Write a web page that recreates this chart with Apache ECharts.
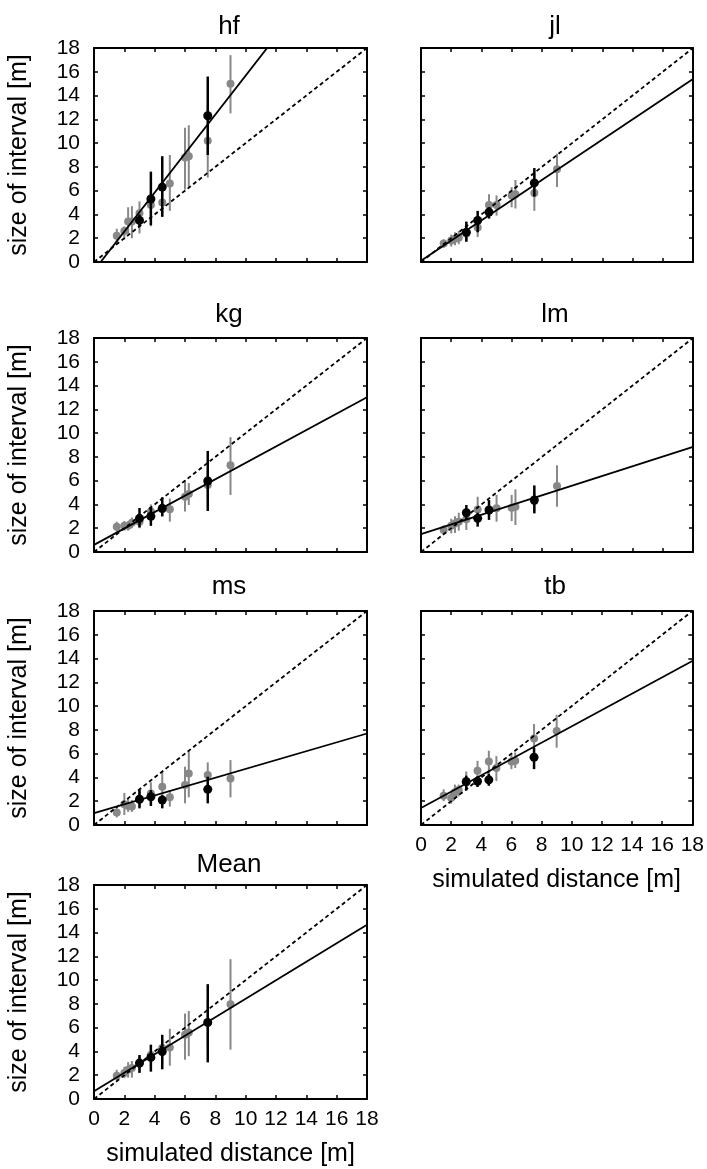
<!DOCTYPE html>
<html>
<head>
<meta charset="utf-8">
<script src="https://cdn.jsdelivr.net/npm/echarts@6/dist/echarts.min.js"></script>
<style>
  html, body { margin: 0; padding: 0; background: #fff; }
  #chart { width: 707px; height: 1169px; }
</style>
</head>
<body>
<div id="chart"></div>
<script>
// panels
const PANELS = ['hf', 'jl', 'kg', 'lm', 'ms', 'tb', 'Mean'];
const IDENTITY = [0, 18];

// simulated distances
const GRAY_X = [1.5, 2, 2.25, 2.5, 3, 3.75, 4.5, 5, 6, 6.25, 7.5, 9];
const BLACK_X = [3, 3.75, 4.5, 7.5];

// hf
const hfGrayY  = [2.2, 2.6, 3.4, 3.4, 4.1, 4.8, 5.0, 6.6, 8.8, 8.9, 10.2, 15.0];
const hfGrayLo = [1.6, 1.9, 2.3, 2.0, 2.4, 3.0, 3.8, 4.3, 6.1, 6.2, 7.1, 12.5];
const hfGrayHi = [2.8, 3.0, 4.6, 4.7, 5.1, 6.0, 6.2, 9.0, 11.3, 11.5, 13.2, 17.4];
const hfBlackY  = [3.5, 5.3, 6.3, 12.3];
const hfBlackLo = [3.0, 3.1, 3.8, 9.0];
const hfBlackHi = [4.0, 7.6, 8.9, 15.6];
const hfFit = [-0.72, 1.64]; // intercept, slope

// jl
const jlGrayY  = [1.55, 1.8, 1.95, 2.05, 2.4, 2.9, 4.8, 4.8, 5.6, 5.7, 5.8, 7.8];
const jlGrayLo = [1.2, 1.3, 1.4, 1.5, 1.8, 2.1, 3.8, 3.9, 4.6, 4.5, 4.3, 6.3];
const jlGrayHi = [1.9, 2.3, 2.5, 2.6, 3.0, 3.8, 5.7, 5.6, 6.3, 6.9, 7.6, 9.1];
const jlBlackY  = [2.5, 3.5, 4.2, 6.65];
const jlBlackLo = [1.7, 2.5, 3.65, 5.5];
const jlBlackHi = [3.4, 4.3, 4.6, 7.9];
const jlFit = [0.1, 0.85];

// kg
const kgGrayY  = [2.13, 2.2, 2.2, 2.45, 2.55, 3.4, 3.6, 3.6, 4.65, 4.87, 5.63, 7.3];
const kgGrayLo = [1.7, 1.8, 1.8, 2.0, 2.0, 2.7, 3.0, 2.55, 3.4, 3.95, 4.5, 4.8];
const kgGrayHi = [2.55, 2.6, 2.6, 2.9, 3.2, 4.0, 4.3, 4.5, 6.05, 5.8, 6.8, 9.66];
const kgBlackY  = [2.83, 3.0, 3.67, 5.97];
const kgBlackLo = [2.07, 2.2, 3.0, 3.45];
const kgBlackHi = [3.7, 3.8, 4.6, 8.5];
const kgFit = [0.6, 0.69];

// lm
const lmGrayY  = [1.85, 2.2, 2.4, 2.55, 2.75, 3.58, 3.5, 3.67, 3.72, 3.8, 4.3, 5.55];
const lmGrayLo = [1.45, 1.57, 1.6, 1.8, 1.85, 2.4, 2.8, 2.55, 2.6, 2.27, 3.5, 3.8];
const lmGrayHi = [2.25, 2.8, 3.0, 3.3, 3.67, 4.65, 4.2, 4.8, 4.8, 5.27, 5.0, 7.3];
const lmBlackY  = [3.3, 2.83, 3.53, 4.37];
const lmBlackLo = [2.7, 2.13, 2.7, 3.25];
const lmBlackHi = [3.95, 3.3, 4.37, 5.6];
const lmFit = [1.5, 0.408];

// ms
const msGrayY  = [1.06, 1.74, 1.6, 1.55, 2.2, 2.66, 3.22, 2.33, 3.36, 4.34, 4.2, 3.92];
const msGrayLo = [0.64, 0.84, 1.1, 1.1, 1.6, 1.8, 2.1, 1.55, 1.82, 2.33, 3.08, 2.33];
const msGrayHi = [1.4, 2.7, 2.2, 2.1, 2.9, 3.6, 4.48, 2.9, 4.9, 6.3, 5.27, 5.46];
const msBlackY  = [2.16, 2.38, 2.1, 3.0];
const msBlackLo = [1.4, 1.6, 1.4, 1.82];
const msBlackHi = [2.94, 2.94, 2.5, 4.06];
const msFit = [1.0, 0.372];

// tb
const tbGrayY  = [2.46, 2.27, 2.75, 2.94, 3.7, 4.57, 5.35, 4.8, 5.35, 5.4, 7.28, 7.9];
const tbGrayLo = [2.0, 1.8, 2.2, 2.4, 3.0, 3.6, 4.15, 3.7, 4.7, 4.8, 5.97, 6.5];
const tbGrayHi = [3.0, 2.75, 3.4, 3.4, 4.5, 5.4, 6.25, 5.8, 6.0, 6.1, 8.5, 9.27];
const tbBlackY  = [3.64, 3.67, 3.8, 5.7];
const tbBlackLo = [2.9, 3.2, 3.3, 4.7];
const tbBlackHi = [4.15, 4.1, 4.3, 6.5];
const tbFit = [1.43, 0.687];

// Mean
const meanGrayY  = [1.96, 2.18, 2.46, 2.6, 3.0, 3.7, 4.3, 4.34, 5.4, 5.6, 6.4, 7.98];
const meanGrayLo = [1.6, 1.75, 1.8, 1.8, 2.2, 2.7, 3.0, 2.8, 3.3, 3.6, 4.5, 4.15];
const meanGrayHi = [2.46, 2.7, 3.1, 3.2, 3.6, 4.5, 5.0, 5.9, 7.2, 7.4, 8.3, 11.76];
const meanBlackY  = [3.02, 3.5, 4.0, 6.44];
const meanBlackLo = [2.2, 2.3, 2.5, 3.08];
const meanBlackHi = [3.7, 4.57, 5.4, 9.66];
const meanFit = [0.65, 0.778];

const PANEL_DATA = [
  [hfGrayY, hfGrayLo, hfGrayHi, hfBlackY, hfBlackLo, hfBlackHi, hfFit],
  [jlGrayY, jlGrayLo, jlGrayHi, jlBlackY, jlBlackLo, jlBlackHi, jlFit],
  [kgGrayY, kgGrayLo, kgGrayHi, kgBlackY, kgBlackLo, kgBlackHi, kgFit],
  [lmGrayY, lmGrayLo, lmGrayHi, lmBlackY, lmBlackLo, lmBlackHi, lmFit],
  [msGrayY, msGrayLo, msGrayHi, msBlackY, msBlackLo, msBlackHi, msFit],
  [tbGrayY, tbGrayLo, tbGrayHi, tbBlackY, tbBlackLo, tbBlackHi, tbFit],
  [meanGrayY, meanGrayLo, meanGrayHi, meanBlackY, meanBlackLo, meanBlackHi, meanFit]
];

// layout
const FONT = "'Liberation Sans', Arial, Helvetica, sans-serif";
const LEFTS = [94, 421];
const WIDTHS = [273, 272];
const TOPS = [48, 338, 611, 885];
const HEIGHT = 214;
const TITLE_X = [224, 550];
const TITLE_Y = [25, 25, 313, 313, 585, 585, 863];
const GRAY = '#888888';

const chart = echarts.init(document.getElementById('chart'));

function errBar(color, width) {
  return function (params, api) {
    const p1 = api.coord([api.value(0), api.value(2)]);
    const p2 = api.coord([api.value(0), api.value(3)]);
    return {
      type: 'line',
      shape: { x1: p1[0], y1: p1[1], x2: p2[0], y2: p2[1] },
      style: { stroke: color, lineWidth: width }
    };
  };
}

const axisLine = { show: true, onZero: false, lineStyle: { color: '#000', width: 2 } };
const axisTick = { show: true, inside: true, length: 4, lineStyle: { color: '#000', width: 1.5 } };

let grid = [], xAxis = [], yAxis = [], series = [], title = [];

PANELS.forEach(function (name, i) {
  const col = i % 2, row = Math.floor(i / 2);
  const showX = (i === 5 || i === 6);
  const showY = (col === 0);
  const d = PANEL_DATA[i];

  grid.push({ left: LEFTS[col], top: TOPS[row], width: WIDTHS[col], height: HEIGHT });

  title.push({
    text: name, left: TITLE_X[col], top: TITLE_Y[i] - 16, textAlign: 'center',
    textStyle: { fontFamily: FONT, fontSize: 26, fontWeight: 'normal', color: '#000' }
  });

  const base = { gridIndex: i, type: 'value', min: 0, max: 18, interval: 2, splitLine: { show: false }, axisLine: axisLine, axisTick: axisTick };
  xAxis.push(Object.assign({}, base, {
    position: 'bottom',
    axisLabel: { show: showX, color: '#000', fontSize: 21, fontFamily: FONT, margin: 10 },
    name: showX ? 'simulated distance [m]' : '', nameLocation: 'middle', nameGap: 43,
    nameTextStyle: { color: '#000', fontSize: 25, fontFamily: FONT }
  }));
  xAxis.push(Object.assign({}, base, { position: 'top', axisLabel: { show: false } }));
  yAxis.push(Object.assign({}, base, {
    position: 'left',
    axisLabel: { show: showY, color: '#000', fontSize: 21, fontFamily: FONT, margin: 14 },
    name: showY ? 'size of interval [m]' : '', nameLocation: 'middle', nameGap: 62,
    nameTextStyle: { color: '#000', fontSize: 25, fontFamily: FONT }
  }));
  yAxis.push(Object.assign({}, base, { position: 'right', axisLabel: { show: false } }));

  const ax = { xAxisIndex: 2 * i, yAxisIndex: 2 * i };
  const grayData = GRAY_X.map((x, k) => [x, d[0][k], d[1][k], d[2][k]]);
  const blackData = BLACK_X.map((x, k) => [x, d[3][k], d[4][k], d[5][k]]);
  const fit = d[6];

  series.push(Object.assign({
    type: 'custom', renderItem: errBar(GRAY, 2), data: grayData,
    encode: { x: 0, y: [2, 3] }, silent: true, z: 2
  }, ax));
  series.push(Object.assign({
    type: 'scatter', data: grayData.map(r => [r[0], r[1]]), symbolSize: 8,
    itemStyle: { color: GRAY, opacity: 1 }, z: 3
  }, ax));
  series.push(Object.assign({
    type: 'line', data: IDENTITY.map(v => [v, v]), showSymbol: false, symbol: 'none', clip: true,
    lineStyle: { color: '#000', width: 1.8, type: [4, 3] }, z: 4
  }, ax));
  series.push(Object.assign({
    type: 'line', data: IDENTITY.map(v => [v, fit[0] + fit[1] * v]), showSymbol: false, symbol: 'none', clip: true,
    lineStyle: { color: '#000', width: 1.8 }, z: 4
  }, ax));
  series.push(Object.assign({
    type: 'custom', renderItem: errBar('#000', 2.5), data: blackData,
    encode: { x: 0, y: [2, 3] }, silent: true, z: 5
  }, ax));
  series.push(Object.assign({
    type: 'scatter', data: blackData.map(r => [r[0], r[1]]), symbolSize: 9,
    itemStyle: { color: '#000', opacity: 1 }, z: 6
  }, ax));
});

chart.setOption({
  animation: false,
  backgroundColor: '#fff',
  title: title,
  grid: grid,
  xAxis: xAxis,
  yAxis: yAxis,
  series: series
});
</script>
</body>
</html>
